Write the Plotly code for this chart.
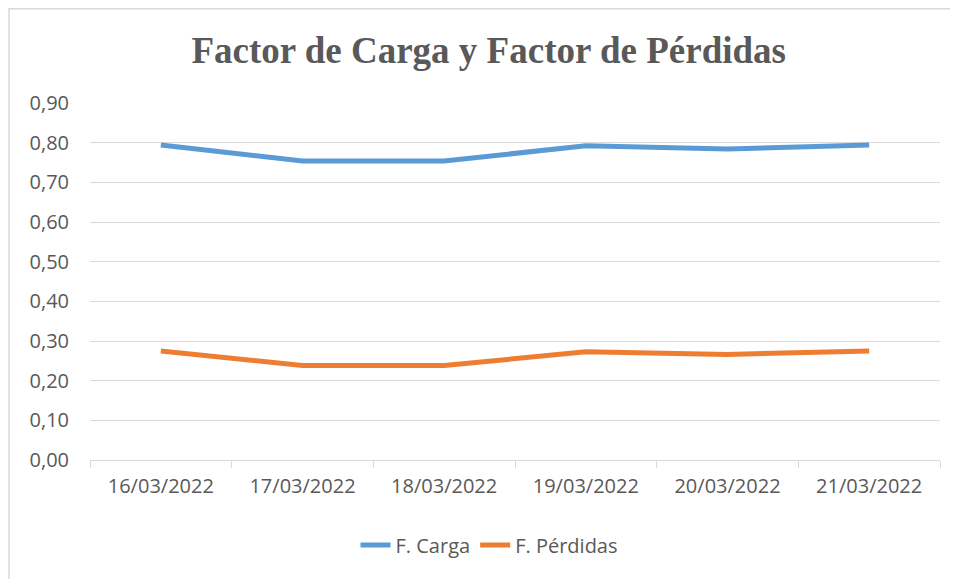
import plotly.graph_objects as go

fechas = ["16/03/2022", "17/03/2022", "18/03/2022", "19/03/2022", "20/03/2022", "21/03/2022"]
f_carga = [0.794, 0.754, 0.754, 0.792, 0.784, 0.794]
f_perdidas = [0.275, 0.238, 0.238, 0.273, 0.266, 0.275]
y_ticks = [0, 0.1, 0.2, 0.3, 0.4, 0.5, 0.6, 0.7, 0.8, 0.9]
y_labels = ["0,00", "0,10", "0,20", "0,30", "0,40", "0,50", "0,60", "0,70", "0,80", "0,90"]

txt = "#595959"
font = "Open Sans"

fig = go.Figure()
fig.add_trace(go.Scatter(x=fechas, y=f_carga, name="F. Carga", mode="lines",
                         line=dict(color="#5B9BD5", width=5)))
fig.add_trace(go.Scatter(x=fechas, y=f_perdidas, name="F. Pérdidas", mode="lines",
                         line=dict(color="#ED7D31", width=5)))

# page body has an 8px margin, so the figure is a bit smaller than the window
fig.update_layout(
    width=950, height=571,
    margin=dict(l=82, r=18, t=95, b=119),
    paper_bgcolor="white", plot_bgcolor="white",
    title=dict(text="<b>Factor de Carga y Factor de Pérdidas</b>",
               x=0.506, xanchor="center", y=0.926, yanchor="middle",
               font=dict(family="Liberation Serif", size=37, color=txt)),
    font=dict(family=font, size=20, color=txt),
    showlegend=True,
    legend=dict(orientation="h", x=0.47, xanchor="center", y=-0.238, yanchor="middle",
                font=dict(size=20, color=txt)),
)
fig.update_xaxes(range=[-0.5, 5.5], automargin=False,
                 showgrid=False, showline=True, linecolor="#D9D9D9", linewidth=1,
                 ticks="outside", tickson="boundaries", ticklen=7, tickcolor="#D9D9D9",
                 ticklabelstandoff=8, tickfont=dict(size=20, color=txt))
fig.update_yaxes(range=[0, 0.9], tickvals=y_ticks, ticktext=y_labels, automargin=False,
                 showgrid=True, gridcolor="#D9D9D9", gridwidth=1, zeroline=False,
                 ticks="", ticklabelstandoff=20, tickfont=dict(size=20, color=txt))

# chart border
fig.add_shape(type="rect", xref="paper", yref="paper", x0=-0.0953, x1=1.5, y0=-1, y1=1.264,
              line=dict(color="#D9D9D9", width=1.5), layer="below")

fig.write_html("out.html")
